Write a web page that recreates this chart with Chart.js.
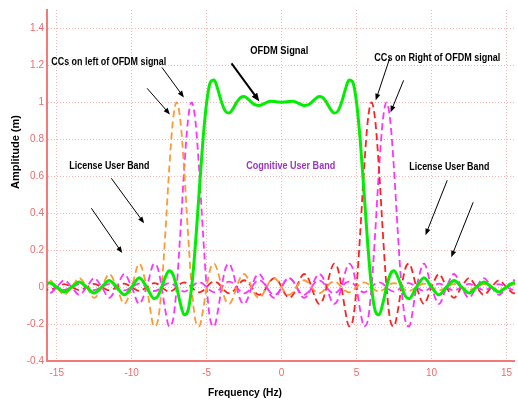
<!DOCTYPE html>
<html>
<head>
<meta charset="utf-8">
<title>OFDM spectrum with cancellation carriers</title>
<script src="https://cdn.jsdelivr.net/npm/chart.js@4.4.1/dist/chart.umd.min.js"></script>
<style>
  html, body { margin: 0; padding: 0; background: #fff; }
  #wrap { width: 518px; height: 401px; }
</style>
</head>
<body>
<div id="wrap"><canvas id="spectrum" width="518" height="401"></canvas></div>
<script>
// frequency grid (Hz): coarse in the far tails, finer around the band edges
const freq = [
  -16, -15.5, -15, -14.5, -14, -13.5, -13, -12.5, -12, -11.5, -11, -10.5, -10, -9.5, -9,
  -8.5, -8.25, -8, -7.75, -7.5, -7.25, -7, -6.75, -6.5, -6.25, -6, -5.75, -5.5, -5.25,
  -5, -4.75, -4.5, -4.25, -4, -3.75, -3.5, -3.25, -3, -2.75, -2.5, -2.25, -2, -1.75,
  -1.5, -1.25, -1, -0.75, -0.5, -0.25, 0, 0.25, 0.5, 0.75, 1, 1.25, 1.5, 1.75,
  2, 2.25, 2.5, 2.75, 3, 3.25, 3.5, 3.75, 4, 4.25, 4.5, 4.75, 5, 5.25, 5.5, 5.75,
  6, 6.25, 6.5, 6.75, 7, 7.25, 7.5, 7.75, 8, 8.25, 8.5,
  9, 9.5, 10, 10.5, 11, 11.5, 12, 12.5, 13, 13.5, 14, 14.5, 15, 15.5, 16
];

// OFDM signal (green)
const ofdm = [
  0, 0.023, 0, -0.026, 0, 0.028, 0, -0.032, 0, 0.036, 0, -0.042, 0, 0.050, 0,
  -0.063, -0.048, 0, 0.056, 0.088, 0.069, 0, -0.090, -0.150, -0.129, 0, 0.229, 0.514, 0.791,
  1, 1.109, 1.121, 1.069, 1, 0.952, 0.942, 0.965, 1, 1.026, 1.032, 1.019, 1, 0.986,
  0.983, 0.990, 1, 1.006, 1.005, 1.002, 1, 1.002, 1.005, 1.006, 1, 0.990, 0.983, 0.986,
  1, 1.019, 1.032, 1.026, 1, 0.965, 0.942, 0.952, 1, 1.069, 1.121, 1.109, 1, 0.791, 0.514, 0.229,
  0, -0.129, -0.150, -0.090, 0, 0.069, 0.088, 0.056, 0, -0.048, -0.063,
  0, 0.050, 0, -0.042, 0, 0.036, 0, -0.032, 0, 0.028, 0, -0.026, 0, 0.023, 0
];

// cancellation carrier at -7 Hz (orange)
const ccLeftOuter = [
  0, 0.037, 0, -0.042, 0, 0.049, 0, -0.058, 0, 0.071, 0, -0.091, 0, 0.127, 0,
  -0.212, -0.180, 0, 0.300, 0.637, 0.900, 1, 0.900, 0.637, 0.300, 0, -0.180, -0.212, -0.129,
  0, 0.100, 0.127, 0.082, 0, -0.069, -0.091, -0.060, 0, 0.053, 0.071, 0.047, 0, -0.043,
  -0.058, -0.039, 0, 0.036, 0.049, 0.033, 0, -0.031, -0.042, -0.029, 0, 0.027, 0.037, 0.026,
  0, -0.024, -0.034, -0.023, 0, 0.022, 0.030, 0.021, 0, -0.020, -0.028, -0.019, 0, 0.018, 0.026, 0.018,
  0, -0.017, -0.024, -0.016, 0, 0.016, 0.022, 0.015, 0, -0.015, -0.021,
  0, 0.019, 0, -0.018, 0, 0.017, 0, -0.016, 0, 0.016, 0, -0.015, 0, 0.014, 0
];

// cancellation carrier at -6 Hz (magenta)
const ccLeftInner = [
  0, -0.034, 0, 0.037, 0, -0.042, 0, 0.049, 0, -0.058, 0, 0.071, 0, -0.091, 0,
  0.127, 0.100, 0, -0.129, -0.212, -0.180, 0, 0.300, 0.637, 0.900, 1, 0.900, 0.637, 0.300,
  0, -0.180, -0.212, -0.129, 0, 0.100, 0.127, 0.082, 0, -0.069, -0.091, -0.060, 0, 0.053,
  0.071, 0.047, 0, -0.043, -0.058, -0.039, 0, 0.036, 0.049, 0.033, 0, -0.031, -0.042, -0.029,
  0, 0.027, 0.037, 0.026, 0, -0.024, -0.034, -0.023, 0, 0.022, 0.030, 0.021, 0, -0.020, -0.028, -0.019,
  0, 0.018, 0.026, 0.018, 0, -0.017, -0.024, -0.016, 0, 0.016, 0.022,
  0, -0.021, 0, 0.019, 0, -0.018, 0, 0.017, 0, -0.016, 0, 0.016, 0, -0.015, 0
];

// cancellation carrier at +6 Hz (red)
const ccRightInner = [
  0, -0.015, 0, 0.016, 0, -0.016, 0, 0.017, 0, -0.018, 0, 0.019, 0, -0.021, 0,
  0.022, 0.016, 0, -0.016, -0.024, -0.017, 0, 0.018, 0.026, 0.018, 0, -0.019, -0.028, -0.020,
  0, 0.021, 0.030, 0.022, 0, -0.023, -0.034, -0.024, 0, 0.026, 0.037, 0.027, 0, -0.029,
  -0.042, -0.031, 0, 0.033, 0.049, 0.036, 0, -0.039, -0.058, -0.043, 0, 0.047, 0.071, 0.053,
  0, -0.060, -0.091, -0.069, 0, 0.082, 0.127, 0.100, 0, -0.129, -0.212, -0.180, 0, 0.300, 0.637, 0.900,
  1, 0.900, 0.637, 0.300, 0, -0.180, -0.212, -0.129, 0, 0.100, 0.127,
  0, -0.091, 0, 0.071, 0, -0.058, 0, 0.049, 0, -0.042, 0, 0.037, 0, -0.034, 0
];

// cancellation carrier at +7 Hz (magenta)
const ccRightOuter = [
  0, 0.014, 0, -0.015, 0, 0.016, 0, -0.016, 0, 0.017, 0, -0.018, 0, 0.019, 0,
  -0.021, -0.015, 0, 0.015, 0.022, 0.016, 0, -0.016, -0.024, -0.017, 0, 0.018, 0.026, 0.018,
  0, -0.019, -0.028, -0.020, 0, 0.021, 0.030, 0.022, 0, -0.023, -0.034, -0.024, 0, 0.026,
  0.037, 0.027, 0, -0.029, -0.042, -0.031, 0, 0.033, 0.049, 0.036, 0, -0.039, -0.058, -0.043,
  0, 0.047, 0.071, 0.053, 0, -0.060, -0.091, -0.069, 0, 0.082, 0.127, 0.100, 0, -0.129, -0.212, -0.180,
  0, 0.300, 0.637, 0.900, 1, 0.900, 0.637, 0.300, 0, -0.180, -0.212,
  0, 0.127, 0, -0.091, 0, 0.071, 0, -0.058, 0, 0.049, 0, -0.042, 0, 0.037, 0
];

// text labels, placed in data units
const notes = [
  { text: 'CCs on left of OFDM signal', x: -11.53, y: 1.216, w: 115, color: '#000' },
  { text: 'OFDM Signal', x: -0.15, y: 1.276, w: 58, color: '#000' },
  { text: 'CCs on Right of OFDM signal', x: 10.39, y: 1.243, w: 126, color: '#000' },
  { text: 'License User Band', x: -11.49, y: 0.654, w: 80, color: '#000' },
  { text: 'Cognitive User Band', x: 0.61, y: 0.654, w: 89, color: '#9b35c8' },
  { text: 'License User Band', x: 11.19, y: 0.649, w: 80, color: '#000' }
];

// arrows [x0, y0, x1, y1, width] in data units, head at the second point
const arrows = [
  [-8.97, 1.076, -7.45, 0.935, 1],
  [-7.98, 1.189, -6.52, 1.027, 1],
  [-3.34, 1.211, -1.48, 1.005, 2],
  [7.21, 1.238, 6.28, 1.011, 1],
  [8.14, 1.119, 7.27, 0.946, 1],
  [-11.36, 0.589, -9.17, 0.346, 1],
  [-12.69, 0.427, -10.63, 0.184, 1],
  [11.05, 0.578, 9.60, 0.281, 1],
  [12.78, 0.459, 11.32, 0.162, 1]
];

function series(label, values, color, width, dash) {
  return {
    label: label,
    data: freq.map((f, i) => ({ x: f, y: values[i] })),
    borderColor: color,
    borderWidth: width,
    borderDash: dash,
    pointRadius: 0,
    fill: false,
    cubicInterpolationMode: 'monotone'
  };
}

const boldFont = 'bold 11px "Liberation Sans", Arial, sans-serif';

const annotate = {
  id: 'annotate',
  afterDraw(chart) {
    const ctx = chart.ctx;
    const xs = chart.scales.x, ys = chart.scales.y;
    ctx.save();

    // arrows
    ctx.strokeStyle = '#000';
    ctx.fillStyle = '#000';
    arrows.forEach(a => {
      const x0 = xs.getPixelForValue(a[0]), y0 = ys.getPixelForValue(a[1]);
      const x1 = xs.getPixelForValue(a[2]), y1 = ys.getPixelForValue(a[3]);
      const ang = Math.atan2(y1 - y0, x1 - x0);
      const head = a[4] > 1 ? 9 : 7;
      ctx.lineWidth = a[4];
      ctx.beginPath();
      ctx.moveTo(x0, y0);
      ctx.lineTo(x1 - Math.cos(ang) * head * 0.8, y1 - Math.sin(ang) * head * 0.8);
      ctx.stroke();
      ctx.beginPath();
      ctx.moveTo(x1, y1);
      ctx.lineTo(x1 - head * Math.cos(ang - 0.38), y1 - head * Math.sin(ang - 0.38));
      ctx.lineTo(x1 - head * Math.cos(ang + 0.38), y1 - head * Math.sin(ang + 0.38));
      ctx.closePath();
      ctx.fill();
    });

    // labels
    ctx.font = boldFont;
    ctx.textAlign = 'center';
    ctx.textBaseline = 'middle';
    notes.forEach(n => {
      ctx.fillStyle = n.color;
      ctx.fillText(n.text, xs.getPixelForValue(n.x), ys.getPixelForValue(n.y), n.w);
    });

    // axis titles
    ctx.fillStyle = '#000';
    ctx.fillText('Frequency (Hz)', 245, 393, 74);
    ctx.translate(16, 152);
    ctx.rotate(-Math.PI / 2);
    ctx.fillText('Amplitude (m)', 0, 0, 88);
    ctx.restore();
  }
};

const tickFont = { family: '"Liberation Sans Narrow", "Liberation Sans", Arial, sans-serif', size: 10 };

new Chart(document.getElementById('spectrum').getContext('2d'), {
  type: 'line',
  data: {
    datasets: [
      series('OFDM Signal', ofdm, '#00ee00', 3, []),
      series('CC -7 Hz', ccLeftOuter, '#ff9933', 1.8, [7, 4]),
      series('CC -6 Hz', ccLeftInner, '#ff33ff', 1.8, [7, 4]),
      series('CC +6 Hz', ccRightInner, '#ff2222', 1.8, [7, 4]),
      series('CC +7 Hz', ccRightOuter, '#ff33ff', 1.8, [7, 4])
    ]
  },
  options: {
    responsive: false,
    devicePixelRatio: 1,
    animation: false,
    layout: { padding: { top: 10, left: 0, right: 0, bottom: 0 } },
    plugins: {
      legend: { display: false },
      tooltip: { enabled: false }
    },
    scales: {
      x: {
        type: 'linear',
        min: -15.65,
        max: 15.57,
        afterFit(s) { s.height = 40; },
        ticks: {
          stepSize: 5,
          includeBounds: false,
          autoSkip: false,
          maxRotation: 0,
          padding: 6,
          color: '#f26a6a',
          font: tickFont
        },
        grid: { color: '#f7b5b5', lineWidth: 1, drawTicks: false },
        border: { color: '#f47a7a', width: 2, dash: [1, 2] }
      },
      y: {
        min: -0.4,
        max: 1.5,
        afterFit(s) { s.width = 47; },
        ticks: {
          stepSize: 0.2,
          includeBounds: false,
          padding: 3,
          color: '#f26a6a',
          font: tickFont,
          callback: v => Math.round(v * 10) / 10
        },
        grid: { color: '#f7b5b5', lineWidth: 1, drawTicks: false },
        border: { color: '#f47a7a', width: 2, dash: [1, 2] }
      }
    }
  },
  plugins: [annotate]
});
</script>
</body>
</html>
